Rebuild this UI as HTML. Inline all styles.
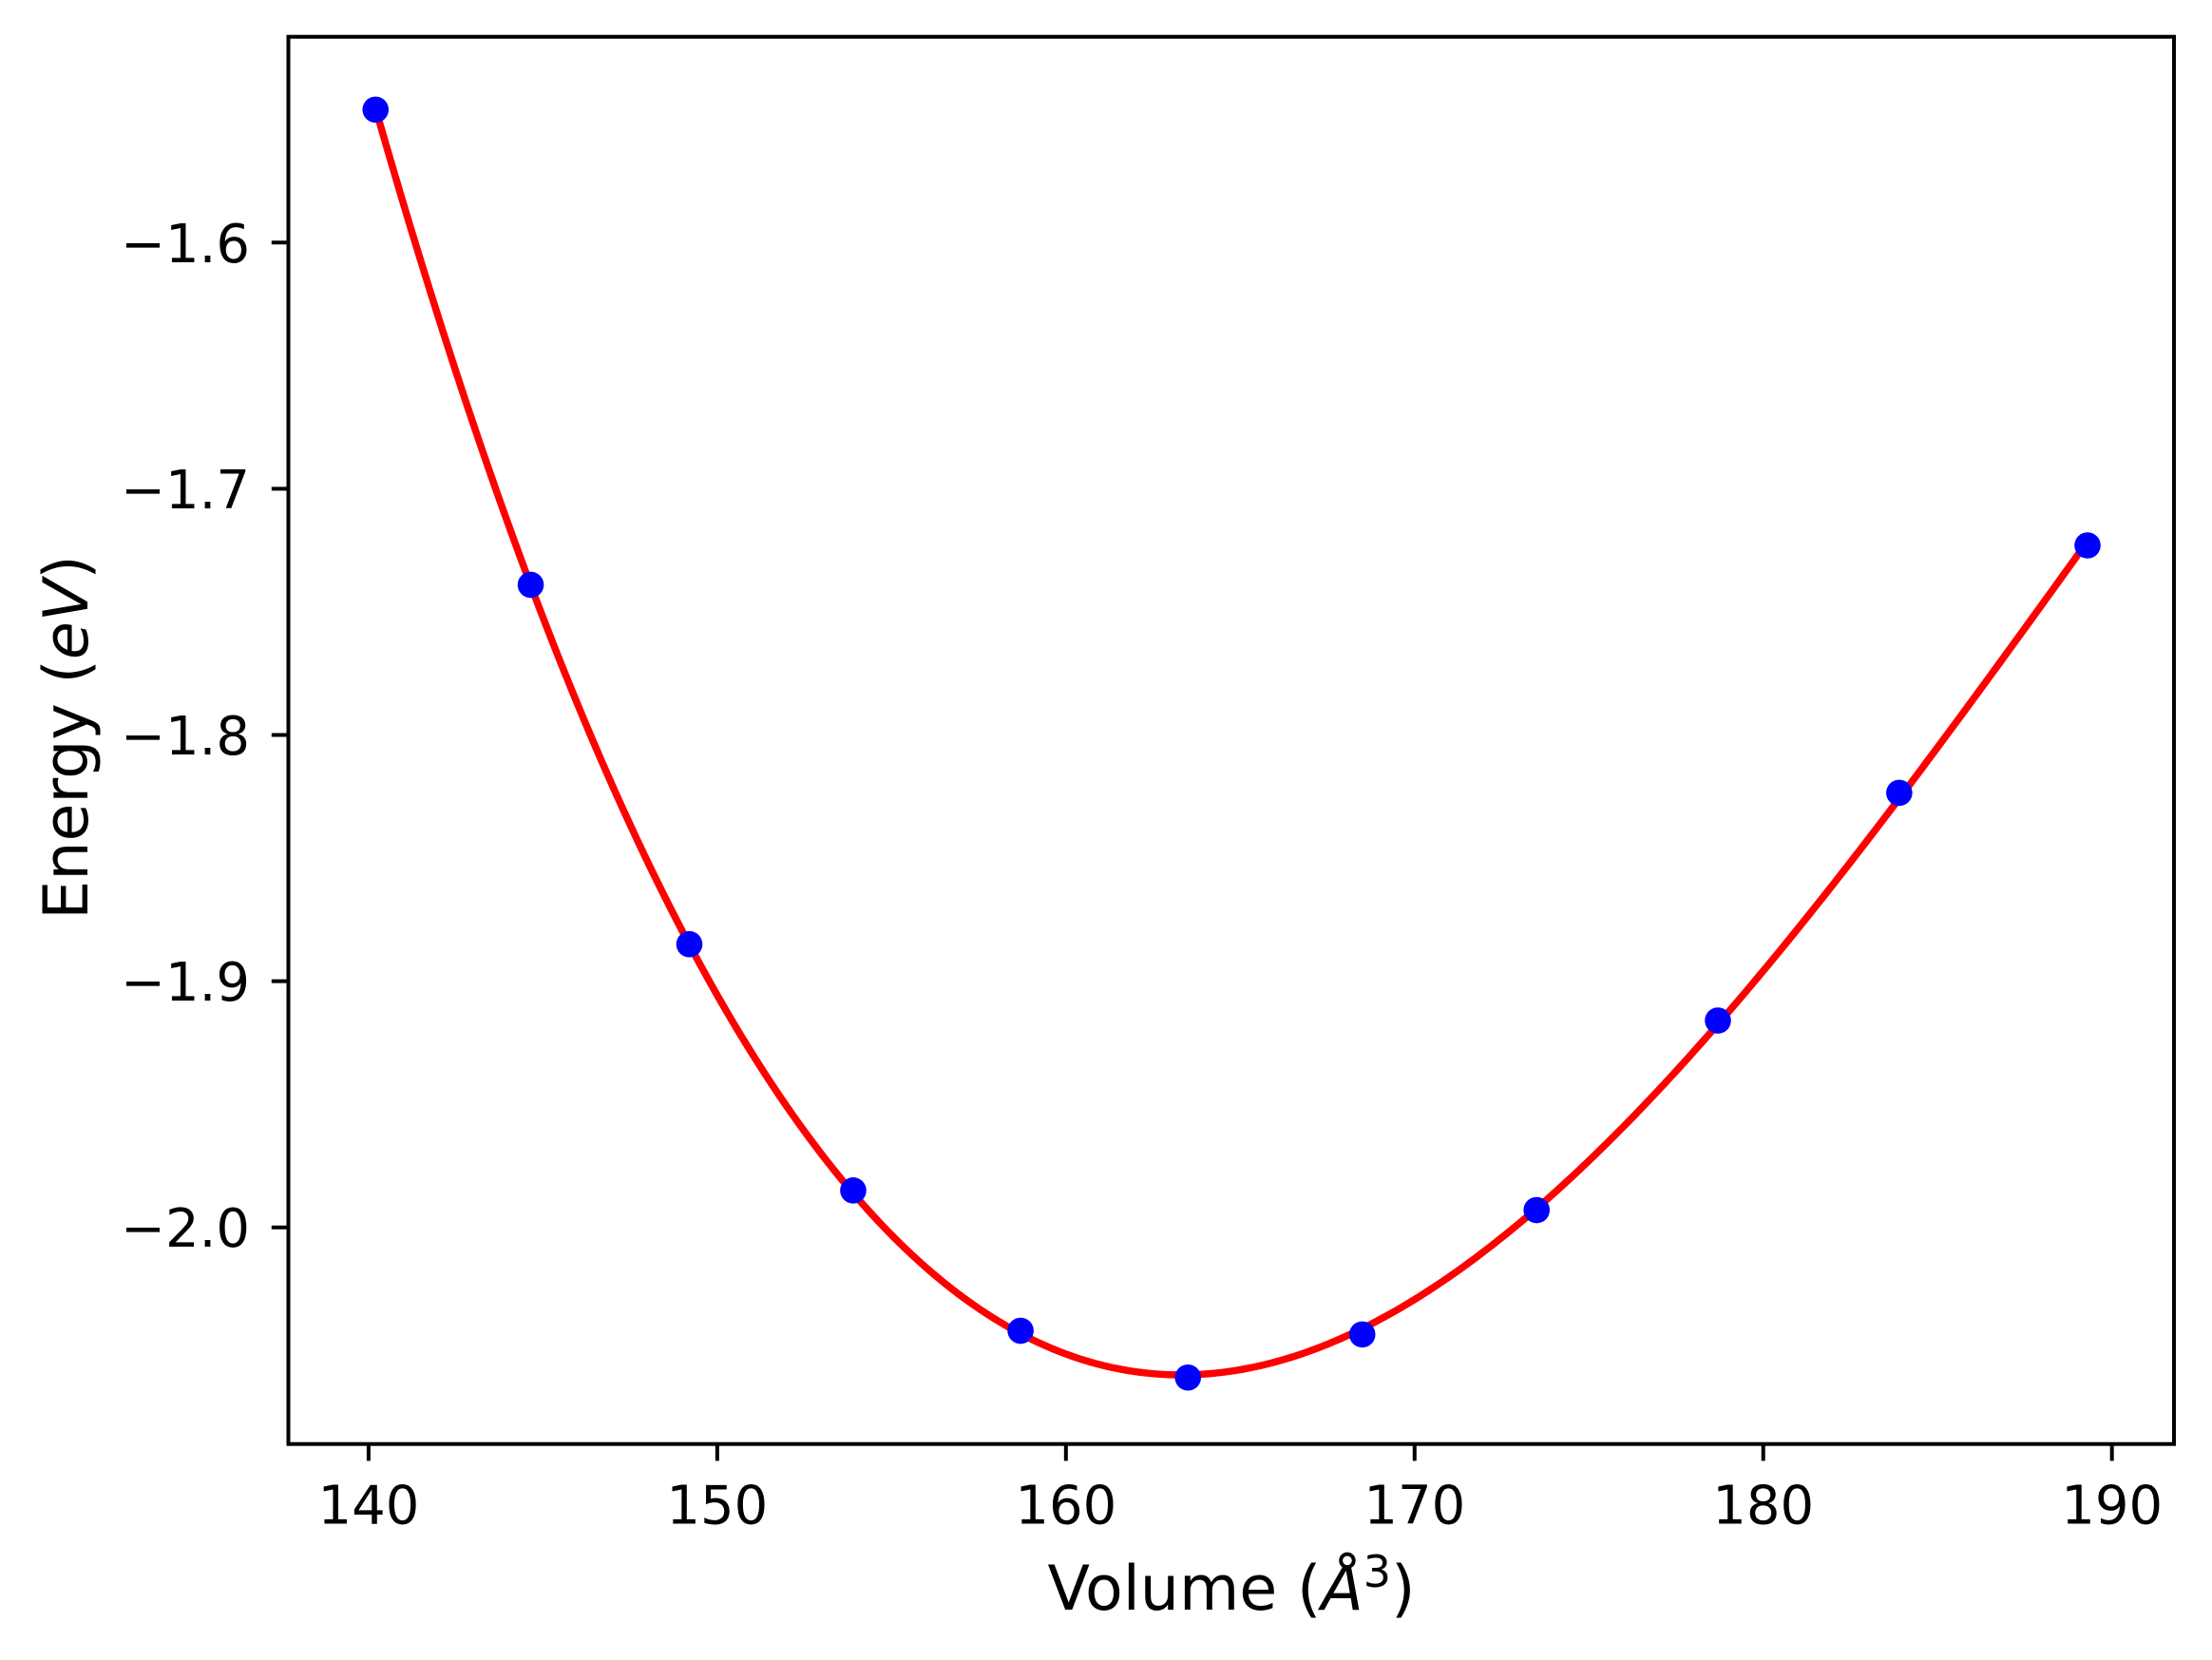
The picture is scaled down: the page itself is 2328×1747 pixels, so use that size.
<!DOCTYPE html>
<html><head><meta charset="utf-8"><style>
html,body{margin:0;padding:0;background:#fff;}
svg{display:block;font-family:"DejaVu Sans","Liberation Sans",sans-serif;}
</style></head><body>
<svg id="chart" width="2328" height="1747" viewBox="0 0 2328 1747" xmlns="http://www.w3.org/2000/svg">
<rect width="2328" height="1747" fill="#fff"/>
<g id="curve-layer"></g>
<g id="points-layer"></g>
<g id="axes-layer"></g>
<text x="1296" y="1694" font-size="65" text-anchor="middle">Volume (<tspan font-style="italic">Å</tspan><tspan font-size="46" dy="-24">3</tspan><tspan dy="24">)</tspan></text>
<text transform="translate(92,776) rotate(-90)" font-size="65" text-anchor="middle">Energy (<tspan font-style="italic">eV</tspan>)</text>
</svg>
<script>
const volumes = [140.2, 144.65, 149.2, 153.9, 158.7, 163.5, 168.5, 173.5, 178.7, 183.9, 189.3];
const energies = [-1.546, -1.739, -1.885, -1.985, -2.042, -2.061, -2.0435, -1.993, -1.916, -1.8235, -1.723];
const xTicks = [140, 150, 160, 170, 180, 190];
const yTicks = [-1.6, -1.7, -1.8, -1.9, -2.0];
const yTickLabels = ["\u22121.6", "\u22121.7", "\u22121.8", "\u22121.9", "\u22122.0"];

const NS = "http://www.w3.org/2000/svg";
const L = 303.5, R = 2288, T = 38.7, B = 1519.7;
const xMin = 137.7, xMax = 191.78, yMin = -2.088, yMax = -1.5164;
function xs(v){ return L + (v - xMin) / (xMax - xMin) * (R - L); }
function ys(e){ return B - (e - yMin) / (yMax - yMin) * (B - T); }
function mk(tag, attrs, parent){ const el = document.createElementNS(NS, tag); for (const k in attrs) el.setAttribute(k, attrs[k]); parent.appendChild(el); return el; }

// cubic least-squares fit of the data
function fitCubic(xv, yv){
  const c = xv.reduce((a,b)=>a+b,0)/xv.length;
  const n = 4, A = [], bb = [];
  for (let i=0;i<n;i++){ A.push(new Array(n).fill(0)); bb.push(0); }
  xv.forEach((x,k)=>{ const t = x - c; const p=[1,t,t*t,t*t*t];
    for(let i=0;i<n;i++){ bb[i]+=p[i]*yv[k]; for(let j=0;j<n;j++) A[i][j]+=p[i]*p[j]; } });
  for(let i=0;i<n;i++){ let m=i; for(let r=i+1;r<n;r++) if(Math.abs(A[r][i])>Math.abs(A[m][i])) m=r;
    [A[i],A[m]]=[A[m],A[i]]; [bb[i],bb[m]]=[bb[m],bb[i]];
    for(let r=0;r<n;r++){ if(r===i) continue; const f=A[r][i]/A[i][i]; for(let j=i;j<n;j++) A[r][j]-=f*A[i][j]; bb[r]-=f*bb[i]; } }
  const co = bb.map((v,i)=>v/A[i][i]);
  return x => { const t=x-c; return co[0]+co[1]*t+co[2]*t*t+co[3]*t*t*t; };
}
const f = fitCubic(volumes, energies);
const curveLayer = document.getElementById('curve-layer');
const v0 = volumes[0], v1 = volumes[volumes.length-1];
let d = "";
for (let i=0;i<=300;i++){ const v = v0 + (v1-v0)*i/300; d += (i?"L":"M") + xs(v).toFixed(2) + "," + ys(f(v)).toFixed(2); }
const path = mk('path', {d:d, fill:'none', stroke:'#ff0000', 'stroke-width':7.5, 'stroke-linejoin':'round'}, curveLayer);



const pts = document.getElementById('points-layer');
volumes.forEach((v,i)=>{
  const c = mk('circle', {cx:xs(v), cy:ys(energies[i]), r:13.8, fill:'#0000ff'}, pts);
  
  
});

const ax = document.getElementById('axes-layer');
const frame = mk('rect', {x:L, y:T, width:R-L, height:B-T, fill:'none', stroke:'#000', 'stroke-width':4}, ax);


xTicks.forEach(v=>{
  const x = xs(v);
  const tk = mk('line', {x1:x, x2:x, y1:B, y2:B+17.7, stroke:'#000', 'stroke-width':4}, ax);
  
  
  const t = mk('text', {x:x, y:1603.5, 'font-size':56, 'text-anchor':'middle'}, ax);
  t.textContent = String(v);
  
  
});
yTicks.forEach((e,i)=>{
  const y = ys(e);
  const tk = mk('line', {x1:L-17.7, x2:L, y1:y, y2:y, stroke:'#000', 'stroke-width':4}, ax);
  
  
  const t = mk('text', {x:263, y:y+20.5, 'font-size':56, 'text-anchor':'end'}, ax);
  t.textContent = yTickLabels[i];
  
  
});
</script>
</body></html>
